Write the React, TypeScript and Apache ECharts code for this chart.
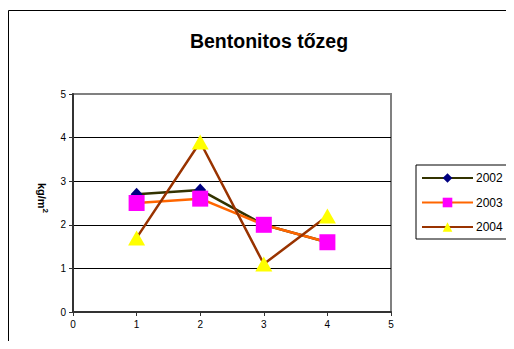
import React, { useEffect, useRef } from "react";
import * as echarts from "echarts";

const xPositions = [1, 2, 3, 4];
const seriesNames = ["2002", "2003", "2004"];
const values2002 = [2.7, 2.8, 2.0, 1.6];
const values2003 = [2.5, 2.6, 2.0, 1.6];
const values2004 = [1.7, 3.9, 1.1, 2.2];
const axisTicks = [0, 1, 2, 3, 4, 5];

const FONT = "'Liberation Sans', Arial, sans-serif";

export default function App() {
  const ref = useRef<HTMLDivElement>(null);

  useEffect(() => {
    if (!ref.current) return;
    const chart = echarts.init(ref.current, undefined, { renderer: "svg" });
    const pair = (vals: number[]) => xPositions.map((x, i) => [x, vals[i]]);

    chart.setOption({
      animation: false,
      backgroundColor: "#ffffff",
      textStyle: { fontFamily: FONT },
      title: {
        text: "Bentonitos tőzeg",
        left: 264,
        top: 26,
        textAlign: "center",
        textStyle: { fontFamily: FONT, fontSize: 19.5, fontWeight: "bold", color: "#000" },
      },
      graphic: [
        {
          type: "rect",
          shape: { x: 8.5, y: 10.5, width: 540, height: 380 },
          style: { fill: "none", stroke: "#000", lineWidth: 1 },
          silent: true,
          z: -1,
        },
        {
          type: "text",
          x: 42,
          y: 198,
          rotation: -Math.PI / 2,
          style: {
            text: "kg/m{sup|2}",
            rich: { sup: { fontSize: 8, fontWeight: "bold", verticalAlign: "top", padding: [0, 0, 6, 0] } },
            fontFamily: FONT,
            fontSize: 11,
            fontWeight: "bold",
            fill: "#000",
            textAlign: "center",
            textVerticalAlign: "middle",
          },
        },
      ],
      legend: {
        orient: "vertical",
        left: 416,
        top: 165,
        padding: [7, 16, 6, 5],
        itemWidth: 51,
        itemHeight: 12,
        itemGap: 12.5,
        borderColor: "#000",
        borderWidth: 1,
        backgroundColor: "#fff",
        textStyle: { fontFamily: FONT, fontSize: 12, color: "#000", padding: [0, 0, 0, -2] },
        data: seriesNames,
      },
      grid: {
        left: 73,
        top: 94,
        width: 318,
        height: 218,
        show: true,
        borderColor: "#808080",
        borderWidth: 2,
        backgroundColor: "#fff",
      },
      xAxis: {
        type: "value",
        min: axisTicks[0],
        max: axisTicks[axisTicks.length - 1],
        interval: 1,
        axisLine: { show: true, lineStyle: { color: "#333", width: 2 } },
        axisTick: { show: true, length: 4, lineStyle: { color: "#333" } },
        axisLabel: { fontFamily: FONT, fontSize: 10, color: "#000", margin: 7 },
        splitLine: { show: false },
      },
      yAxis: {
        type: "value",
        min: axisTicks[0],
        max: axisTicks[axisTicks.length - 1],
        interval: 1,
        axisLine: { show: true, lineStyle: { color: "#333", width: 2 } },
        axisTick: { show: true, length: 4, lineStyle: { color: "#333" } },
        axisLabel: { fontFamily: FONT, fontSize: 10, color: "#000", margin: 7 },
        splitLine: {
          show: true,
          lineStyle: { color: ["#000", "#000", "#000", "#000", "#000", "#808080"], width: 1 },
        },
      },
      series: [
        {
          name: seriesNames[0],
          type: "line",
          data: pair(values2002),
          symbol: "diamond",
          symbolSize: [12, 13],
          lineStyle: { color: "#333300", width: 2.5 },
          itemStyle: { color: "#000080" },
          z: 2,
        },
        {
          name: seriesNames[1],
          type: "line",
          data: pair(values2003),
          symbol: "rect",
          symbolSize: 16,
          lineStyle: { color: "#FF6600", width: 2.5 },
          itemStyle: { color: "#FF00FF" },
          z: 3,
        },
        {
          name: seriesNames[2],
          type: "line",
          data: pair(values2004),
          symbol: "triangle",
          symbolSize: [17, 15],
          lineStyle: { color: "#993300", width: 2.5 },
          itemStyle: { color: "#FFFF00" },
          z: 4,
        },
      ],
    });

    return () => chart.dispose();
  }, []);

  return <div ref={ref} style={{ width: 514, height: 349, margin: -8 }} />;
}
